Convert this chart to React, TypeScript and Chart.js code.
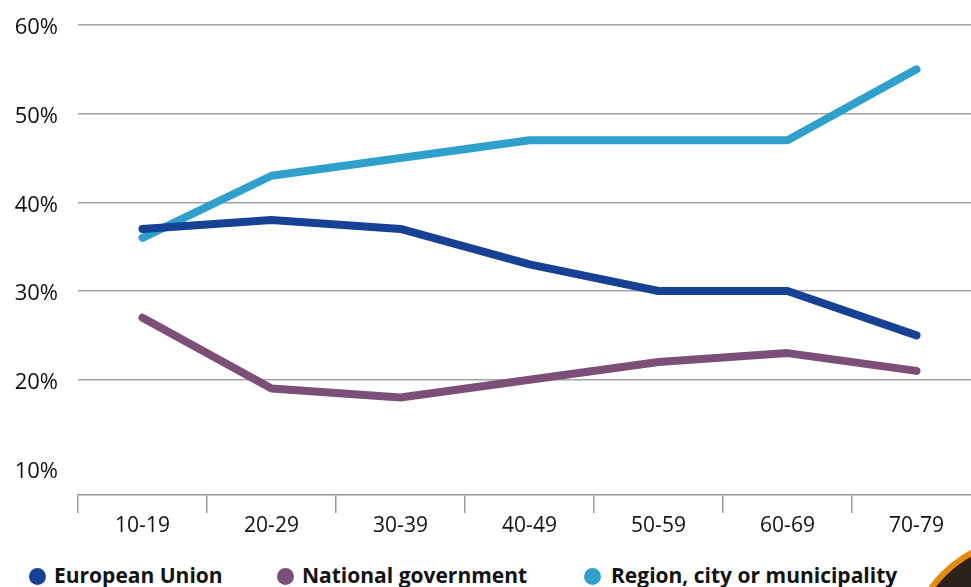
import React, { useEffect, useRef } from 'react';
import { Chart, registerables } from 'chart.js';

Chart.register(...registerables);

const categories = ['10-19', '20-29', '30-39', '40-49', '50-59', '60-69', '70-79'];
const europeanUnion = [37, 38, 37, 33, 30, 30, 25];
const nationalGovernment = [27, 19, 18, 20, 22, 23, 21];
const regionCity = [36, 43, 45, 47, 47, 47, 55];
const yTickValues = [10, 20, 30, 40, 50, 60];

const seriesNames = ['European Union', 'National government', 'Region, city or municipality'];
const seriesColors = ['#164194', '#7b4f78', '#2fa0cb'];

const FONT = '"Open Sans", "DejaVu Sans", sans-serif';

export default function App() {
  const canvasRef = useRef<HTMLCanvasElement | null>(null);

  useEffect(() => {
    const canvas = canvasRef.current;
    if (!canvas) return;
    const seriesData = [europeanUnion, nationalGovernment, regionCity];
    const chart = new Chart(canvas, {
      type: 'line',
      data: {
        labels: categories,
        datasets: seriesData.map((d, i) => ({
          label: seriesNames[i],
          data: d,
          borderColor: seriesColors[i],
          backgroundColor: seriesColors[i],
          borderWidth: 8,
          borderCapStyle: 'round',
          borderJoinStyle: 'round',
          pointRadius: 0,
          pointHoverRadius: 0,
          tension: 0,
          fill: false,
        })),
      },
      options: {
        animation: false,
        responsive: false,
        maintainAspectRatio: false,
        events: [],
        layout: { autoPadding: false, padding: { top: 25, right: 9, left: 0, bottom: 0 } },
        plugins: {
          legend: { display: false },
          tooltip: { enabled: false },
        },
        scales: {
          x: {
            type: 'category',
            offset: true,
            afterFit: (scale: any) => {
              scale.height = 50;
            },
            grid: {
              offset: true,
              drawOnChartArea: false,
              drawTicks: true,
              tickLength: 18,
              color: '#9a9a9a',
              tickColor: '#9a9a9a',
              lineWidth: 1.5,
              tickWidth: 1.5,
            },
            border: { display: true, color: '#9a9a9a', width: 1.5 },
            ticks: {
              color: '#111111',
              font: { family: FONT, size: 21 },
              padding: 0,
              maxRotation: 0,
              autoSkip: false,
            },
          },
          y: {
            min: 7,
            max: 60,
            afterBuildTicks: (scale: any) => {
              scale.ticks = yTickValues.map((v) => ({ value: v }));
            },
            afterFit: (scale: any) => {
              scale.width = 78;
            },
            grid: {
              drawTicks: true,
              tickLength: 20,
              tickColor: 'rgba(0,0,0,0)',
              color: (ctx: any) => (ctx.tick && ctx.tick.value === 10 ? 'rgba(0,0,0,0)' : '#a3a3a3'),
              lineWidth: 1.5,
            },
            border: { display: false },
            ticks: {
              color: '#111111',
              font: { family: FONT, size: 22 },
              padding: 0,
              labelOffset: 3,
              callback: (v: any) => `${v}%`,
            },
          },
        },
      },
    });
    return () => chart.destroy();
  }, []);

  const legendCircleLeft = [29, 277, 584];
  const legendTextLeft = [54, 302, 611];

  return (
    <div
      style={{
        position: 'fixed',
        left: 0,
        top: 0,
        width: 971,
        height: 587,
        overflow: 'hidden',
        background: '#ffffff',
      }}
    >
      <canvas
        ref={canvasRef}
        width={990}
        height={545}
        style={{ position: 'absolute', left: 0, top: 0, width: 990, height: 545 }}
      />
      {seriesNames.map((name, i) => (
        <React.Fragment key={name}>
          <div
            style={{
              position: 'absolute',
              left: legendCircleLeft[i],
              top: 568,
              width: 17,
              height: 17,
              borderRadius: '50%',
              background: seriesColors[i],
            }}
          />
          <div
            style={{
              position: 'absolute',
              left: legendTextLeft[i],
              top: 565,
              fontFamily: FONT,
              fontWeight: 700,
              fontSize: 21,
              lineHeight: 1,
              color: '#111111',
              whiteSpace: 'nowrap',
            }}
          >
            {name}
          </div>
        </React.Fragment>
      ))}
      <div
        style={{
          position: 'absolute',
          left: 1030 - 125,
          top: 660 - 125,
          width: 250,
          height: 250,
          borderRadius: '50%',
          boxSizing: 'border-box',
          border: '6px solid #e8890c',
          background: '#2b2118',
        }}
      />
    </div>
  );
}
